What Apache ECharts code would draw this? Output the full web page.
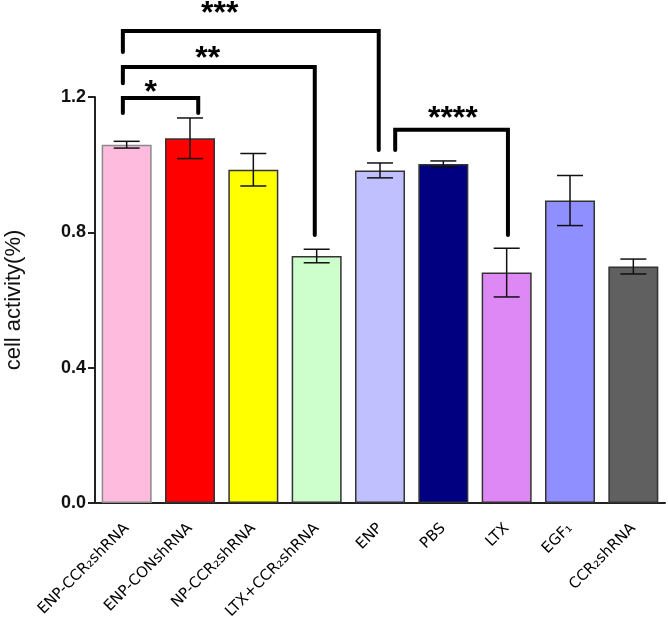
<!DOCTYPE html>
<html><head><meta charset="utf-8">
<script src="https://cdn.jsdelivr.net/npm/echarts@6/dist/echarts.min.js"></script>
<style>html,body{margin:0;padding:0;background:#fff}#c{width:668px;height:624px}</style>
</head><body><div id="c"></div>
<script>
const categories = ['ENP-CCR₂shRNA','ENP-CONshRNA','NP-CCR₂shRNA','LTX+CCR₂shRNA','ENP','PBS','LTX','EGF₁','CCR₂shRNA'];
const means = [1.059, 1.078, 0.985, 0.730, 0.983, 1.002, 0.681, 0.894, 0.699];
const errors = [0.010, 0.060, 0.048, 0.020, 0.022, 0.009, 0.072, 0.074, 0.022];
const barColors = ['#FFBBDD','#FF0000','#FFFF00','#CCFFCC','#C0C0FF','#000080','#DD88F5','#8F8FFF','#606060'];
const yTicks = [0, 0.4, 0.8, 1.2];
// brackets: [leftPos, rightPos, topY, leftBottomY, rightBottomY]
const brackets = [
  [-0.06, 1.13, 1.197, 1.153, 1.153],
  [-0.06, 2.97, 1.289, 1.241, 0.792],
  [-0.06, 3.98, 1.395, 1.333, 1.043],
  [4.24, 6.02, 1.103, 1.043, 0.792]
];
// stars: [pos, y, text]
const stars = [
  [0.38, 1.212, '*'],
  [1.28, 1.312, '**'],
  [1.47, 1.445, '***'],
  [5.15, 1.135, '****']
];

const chart = echarts.init(document.getElementById('c'));
const errData = means.map((m,i)=>[i, m-errors[i], m+errors[i]]);
chart.setOption({
  animation:false,
  grid:{left:95,right:3,top:97,bottom:121,containLabel:false,outerBoundsMode:'none'},
  xAxis:{type:'category',data:categories,
    axisLine:{lineStyle:{color:'#222',width:2}},
    axisTick:{alignWithLabel:true,length:7,lineStyle:{color:'#222',width:2}},
    axisLabel:{rotate:45,fontFamily:'DejaVu Sans',fontSize:15,color:'#000',margin:23,interval:0}
  },
  yAxis:{type:'value',min:0,max:1.2,interval:0.4,
    name:'cell activity(%)',nameLocation:'middle',nameGap:70,
    nameTextStyle:{fontFamily:'Liberation Sans',fontSize:22,color:'#111'},
    axisLine:{show:true,lineStyle:{color:'#222',width:2}},
    axisTick:{show:true,length:7,lineStyle:{color:'#222',width:2}},
    splitLine:{show:false},
    axisLabel:{fontFamily:'Liberation Sans',fontSize:18,fontWeight:'bold',color:'#111',margin:9,
      formatter:v=>v.toFixed(1)}
  },
  series:[
    {type:'bar',barWidth:50,
     data:means.map((v,i)=>({value:v,itemStyle:{color:barColors[i],borderColor:i===0?'#8a8a8a':'#333',borderWidth:1.5}}))},
    {type:'custom',data:errData,z:5,
     renderItem:(params,api)=>{
       const i=api.value(0);
       const lo=api.coord([i,api.value(1)]), hi=api.coord([i,api.value(2)]);
       const hw=13;
       const st={stroke:'#111',lineWidth:1.5};
       return {type:'group',children:[
         {type:'line',shape:{x1:lo[0],y1:lo[1],x2:hi[0],y2:hi[1]},style:st},
         {type:'line',shape:{x1:lo[0]-hw,y1:lo[1],x2:lo[0]+hw,y2:lo[1]},style:st},
         {type:'line',shape:{x1:hi[0]-hw,y1:hi[1],x2:hi[0]+hw,y2:hi[1]},style:st}
       ]};
     }},
    {type:'custom',data:brackets,clip:false,z:6,
     renderItem:(params,api)=>{
       const band=api.size([1,0])[0];
       const x0=api.coord([0,0])[0];
       const xl=x0+api.value(0)*band, xr=x0+api.value(1)*band;
       const yt=api.coord([0,api.value(2)])[1];
       const yl=api.coord([0,api.value(3)])[1];
       const yr=api.coord([0,api.value(4)])[1];
       return {type:'polyline',shape:{points:[[xl,yl],[xl,yt],[xr,yt],[xr,yr]]},
         style:{stroke:'#000',lineWidth:4,fill:null,lineJoin:'miter',lineCap:'round'}};
     }},
    {type:'custom',data:stars,clip:false,z:6,
     renderItem:(params,api)=>{
       const band=api.size([1,0])[0];
       const x0=api.coord([0,0])[0];
       const x=x0+api.value(0)*band;
       const y=api.coord([0,api.value(1)])[1];
       return {type:'text',x:x,y:y,style:{text:stars[params.dataIndex][2],fontFamily:'Liberation Sans',fontWeight:'bold',fontSize:32,fill:'#000',align:'center',verticalAlign:'middle'}};
     }}
  ]
});
</script></body></html>
